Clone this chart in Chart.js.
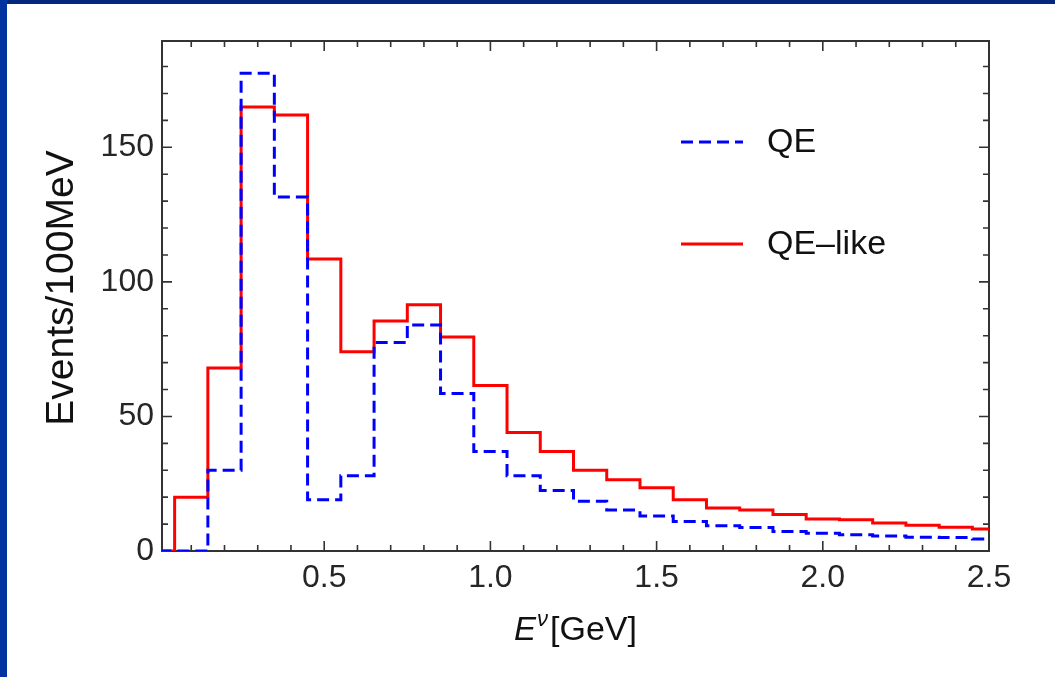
<!DOCTYPE html>
<html><head><meta charset="utf-8">
<script src="https://cdn.jsdelivr.net/npm/chart.js@4.4.1/dist/chart.umd.min.js"></script>
<style>
html,body{margin:0;padding:0;width:1055px;height:677px;overflow:hidden;background:#fff;}
#bgTop{position:absolute;left:0;top:0;width:1055px;height:4px;background:#04297c;}
#bgLeft{position:absolute;left:0;top:0;width:7px;height:677px;background:#0033a0;}
#wrap{position:absolute;left:0;top:0;width:1055px;height:677px;}
</style></head><body>
<div id="bgTop"></div><div id="bgLeft"></div>
<div id="wrap"><canvas id="c" width="1055" height="677"></canvas></div>
<script>
// ---- data ----
const binCenters = [0.0,0.1,0.2,0.3,0.4,0.5,0.6,0.7,0.8,0.9,1.0,1.1,1.2,1.3,1.4,1.5,1.6,1.7,1.8,1.9,2.0,2.1,2.2,2.3,2.4,2.5];
const binWidth = 0.1;
const qeValues     = [0,0,30,177.5,131.5,19,28,77.5,84,58.5,37,28,22.5,18.5,15.2,13,11,9.4,8.7,7.2,6.6,6.0,5.6,5.1,5.0,4.5];
const qeLikeValues = [0,20,68,165,162,108.5,74,85.5,91.5,79.5,61.5,44,37,30,26.5,23.5,19,16,15.2,13.6,11.9,11.6,10.4,9.6,8.8,8.2];
const seriesNames = ['QE', 'QE\u2013like'];
const xTickValues = [0.5,1.0,1.5,2.0,2.5];
const yTickValues = [0,50,100,150];
const xRange = [0.012, 2.5];
const yRange = [0, 189.5];
const xTitle = {main:'E', sup:'\u03bd', rest:'[GeV]'};
const yTitle = 'Events/100MeV';

function stepPoints(vals){
  const pts = binCenters.map((c,i)=>({x: c - binWidth/2, y: vals[i]}));
  const last = binCenters.length-1;
  pts.push({x: binCenters[last] + binWidth/2, y: vals[last]});
  return pts;
}

const FONT = '"Liberation Sans", Arial, sans-serif';
const TXT = '#262626';

const framePlugin = {
  id:'frame',
  beforeDatasetsDraw(chart){
    const {ctx, chartArea:a, scales:{x,y}} = chart;
    ctx.save();
    ctx.strokeStyle = '#333';
    ctx.lineWidth = 2;
    ctx.strokeRect(a.left, a.top, a.right-a.left, a.bottom-a.top);
    ctx.lineWidth = 1.6;
    ctx.beginPath();
    for (let k = 1; k <= 25; k++){
      const v = k/10;
      const px = x.getPixelForValue(v);
      if (px < a.left+1 || px > a.right-1) continue;
      const len = (k % 5 === 0) ? 10 : 6;
      ctx.moveTo(px, a.bottom); ctx.lineTo(px, a.bottom-len);
      ctx.moveTo(px, a.top); ctx.lineTo(px, a.top+len);
    }
    for (let k = 1; k <= 18; k++){
      const v = k*10;
      const py = y.getPixelForValue(v);
      if (py < a.top+1) continue;
      const len = (k % 5 === 0) ? 10 : 6;
      ctx.moveTo(a.left, py); ctx.lineTo(a.left+len, py);
      ctx.moveTo(a.right, py); ctx.lineTo(a.right-len, py);
    }
    ctx.stroke();
    ctx.restore();
  }
};

const textPlugin = {
  id:'texts',
  afterDraw(chart){
    const {ctx, chartArea:a} = chart;
    ctx.save();
    // legend
    const lx0 = 681, lx1 = 743, tx = 767;
    const rows = [
      {y:142, color:'#0000ff', dash:[12,6], label:seriesNames[0]},
      {y:244, color:'#ff0000', dash:[], label:seriesNames[1]}
    ];
    ctx.font = '34px ' + FONT;
    ctx.textBaseline = 'middle';
    ctx.textAlign = 'left';
    rows.forEach(r=>{
      ctx.strokeStyle = r.color; ctx.lineWidth = 3; ctx.setLineDash(r.dash);
      ctx.beginPath(); ctx.moveTo(lx0, r.y); ctx.lineTo(lx1, r.y); ctx.stroke();
      ctx.setLineDash([]);
      ctx.fillStyle = '#111';
      ctx.fillText(r.label, tx, r.y+1);
    });
    // x title
    const cx = (a.left + a.right)/2;
    const base = 640;
    ctx.textBaseline = 'alphabetic';
    ctx.fillStyle = '#111';
    ctx.font = 'italic 33px ' + FONT;
    const wE = ctx.measureText(xTitle.main).width;
    ctx.font = 'italic 22px ' + FONT;
    const wS = ctx.measureText(xTitle.sup).width;
    ctx.font = '34px ' + FONT;
    const wR = ctx.measureText(xTitle.rest).width;
    let sx = cx - (wE + wS + 3 + wR)/2;
    ctx.font = 'italic 33px ' + FONT;
    ctx.fillText(xTitle.main, sx, base); sx += wE + 1;
    ctx.font = 'italic 22px ' + FONT;
    ctx.fillText(xTitle.sup, sx, base - 14); sx += wS + 2;
    ctx.font = '34px ' + FONT;
    ctx.fillText(xTitle.rest, sx, base);
    // y title
    ctx.translate(62, (a.top + a.bottom)/2 - 8);
    ctx.rotate(-Math.PI/2);
    ctx.textAlign = 'center';
    ctx.textBaseline = 'middle';
    ctx.font = '39px ' + FONT;
    ctx.fillText(yTitle, 0, 0);
    ctx.restore();
  }
};

new Chart(document.getElementById('c'), {
  type:'line',
  data:{
    datasets:[
      {label:seriesNames[0], data:stepPoints(qeValues), borderColor:'#0000ff', borderWidth:3,
       borderDash:[12,6], stepped:'before', pointRadius:0, fill:false},
      {label:seriesNames[1], data:stepPoints(qeLikeValues), borderColor:'#ff0000', borderWidth:3,
       stepped:'before', pointRadius:0, fill:false}
    ]
  },
  options:{
    responsive:false, animation:false, devicePixelRatio:1,
    layout:{padding:{left:0, top:41, right:66, bottom:0}},
    plugins:{legend:{display:false}, tooltip:{enabled:false}},
    scales:{
      x:{type:'linear', min:xRange[0], max:xRange[1],
         afterBuildTicks(s){ s.ticks = xTickValues.map(v=>({value:v})); },
         afterFit(s){ s.height = 126; },
         grid:{display:false, drawTicks:false}, border:{display:false},
         ticks:{color:TXT, font:{size:32, family:FONT}, padding:8, maxRotation:0,
                callback:(v)=>Number(v).toFixed(1)}},
      y:{type:'linear', min:yRange[0], max:yRange[1],
         afterBuildTicks(s){ s.ticks = yTickValues.map(v=>({value:v})); },
         afterFit(s){ s.width = 162; },
         grid:{display:false, drawTicks:false}, border:{display:false},
         ticks:{color:TXT, font:{size:32, family:FONT}, padding:8,
                callback:(v)=>String(v)}}
    }
  },
  plugins:[framePlugin, textPlugin]
});
</script>
</body></html>
